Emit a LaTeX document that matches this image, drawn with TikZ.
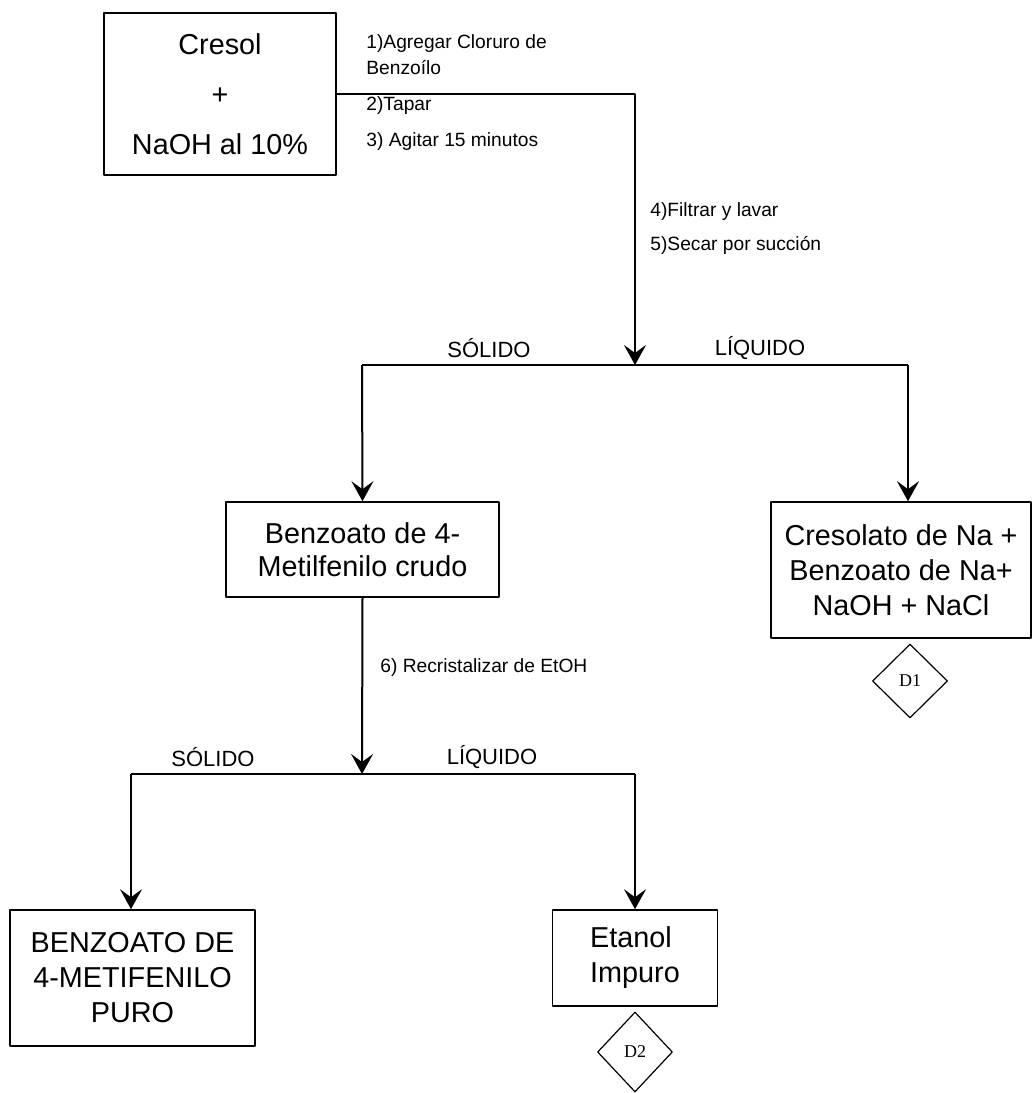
\documentclass[tikz,border=0pt]{standalone}
\usepackage{fontspec}
\setmainfont{Liberation Sans}
\newfontfamily\serifd{Liberation Serif}
\usetikzlibrary{arrows.meta,shapes.geometric}
\begin{document}
\begin{tikzpicture}[x=0.5pt,y=-0.5pt,line join=round,
    caja/.style={draw,line width=0.8pt,rectangle,align=center,inner sep=2pt,font=\fontsize{14.4}{17.5}\selectfont},
    rombo/.style={draw,line width=0.6pt,diamond,inner sep=0pt,font=\serifd\fontsize{9}{10}\selectfont},
    paso/.style={anchor=west,align=left,inner sep=0pt,font=\fontsize{9.6}{13}\selectfont},
    fase/.style={inner sep=0pt,font=\fontsize{11}{12}\selectfont},
    flecha/.style={-{Stealth[length=10pt,width=11pt,inset=4pt]},line width=1pt}]
  \useasboundingbox (0,0) rectangle (1035,1093);
  % cajas
  \node[caja,minimum width=116pt,minimum height=81pt,font=\fontsize{14.4}{25}\selectfont] (cresol) at (220,94) {Cresol\\+\\NaOH al 10\%};
  \node[caja,minimum width=136.5pt,minimum height=47.5pt,font=\fontsize{14.4}{16.5}\selectfont] (crudo) at (362.5,549.5) {Benzoato de 4-\\Metilfenilo crudo};
  \node[caja,minimum width=130pt,minimum height=68pt] (cresolato) at (901,570) {Cresolato de Na +\\Benzoato de Na+\\NaOH + NaCl};
  \node[caja,minimum width=122.5pt,minimum height=68pt] (puro) at (132.5,978) {BENZOATO DE\\4-METIFENILO\\PURO};
  \node[caja,minimum width=82.5pt,minimum height=48pt,align=left] (etanol) at (635,958) {Etanol\\Impuro};
  \node[rombo,minimum width=37.5pt,minimum height=37pt] (d1) at (910,681) {D1};
  \node[rombo,minimum width=37.5pt,minimum height=40pt] (d2) at (635,1052) {D2};
  % puntos de division
  \coordinate (s1) at (635,365);
  \coordinate (s1l) at (362,365);
  \coordinate (s1r) at (908,365);
  \coordinate (s2) at (362,774);
  \coordinate (s2l) at (131,774);
  \coordinate (s2r) at (635,774);
  % conectores
  \draw[flecha] (cresol.east) -| (s1);
  \draw[line width=1pt] (s1l) -- (s1r);
  \draw[flecha] (s1l) -- (crudo.north);
  \draw[flecha] (s1r) -- (s1r |- cresolato.north);
  \draw[flecha] (crudo.south) -- (s2);
  \draw[line width=1pt] (s2l) -- (s2r);
  \draw[flecha] (s2l) -- (s2l |- puro.north);
  \draw[flecha] (s2r) -- (etanol.north);
  % textos
  \node[paso] (p1) at (366,55) {1)Agregar Cloruro de\\Benzoílo};
  \node[paso] (p2) at (366,106) {2)Tapar};
  \node[paso] (p3) at (366,142) {3) Agitar 15 minutos};
  \node[paso] (p4) at (650,212) {4)Filtrar y lavar};
  \node[paso] (p5) at (650,245) {5)Secar por succión};
  \node[paso] (p6) at (380,668) {6) Recristalizar de EtOH};
  \node[fase] (sol1) at (489,348) {SÓLIDO};
  \node[fase] (liq1) at (760,348) {LÍQUIDO};
  \node[fase] (sol2) at (213,757) {SÓLIDO};
  \node[fase] (liq2) at (492,757) {LÍQUIDO};
\end{tikzpicture}
\end{document}
